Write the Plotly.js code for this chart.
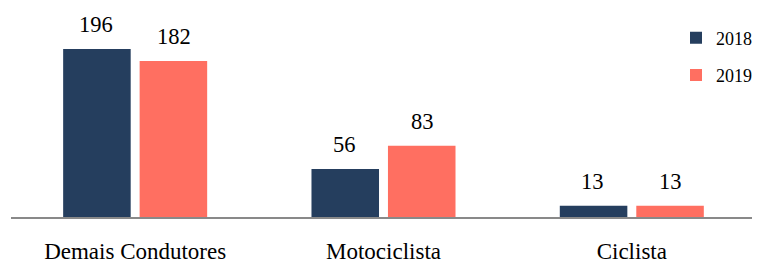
<!DOCTYPE html>
<html><head><meta charset="utf-8">
<script src="https://cdn.plot.ly/plotly-3.0.1.min.js"></script>
<style>html,body{margin:0;padding:0;background:#fff}#c{width:757px;height:266px}</style>
</head><body><div id="c"></div>
<script>
const categories = ["Demais Condutores", "Motociclista", "Ciclista"];
const v2018 = [196, 56, 13];
const v2019 = [182, 83, 13];
const seriesNames = ["2018", "2019"];
const colors = ["#253E5E", "#FF6F61"];
const font = "Times New Roman, Liberation Serif, DejaVu Serif, serif";

const traces = [
  {type:"bar", name:seriesNames[0], x:categories, y:v2018, marker:{color:colors[0]}, legend:"legend", hoverinfo:"none"},
  {type:"bar", name:seriesNames[1], x:categories, y:v2019, marker:{color:colors[1]}, legend:"legend2", hoverinfo:"none"}
];
const ann = [];
[v2018, v2019].forEach((vals, s) => {
  vals.forEach((v, i) => {
    ann.push({x:categories[i], y:v, xref:"x", yref:"y", text:String(v), showarrow:false,
      xshift: s===0 ? -39 : 39, yshift: 10, yanchor:"bottom",
      font:{family:font, size:22.5, color:"#000"}});
  });
});
const layout = {
  width:757, height:266,
  margin:{l:11, r:0, t:10, b:49},
  paper_bgcolor:"#fff", plot_bgcolor:"#fff",
  barmode:"group", bargap:0.384, bargroupgap:0.117,
  font:{family:font, color:"#000"},
  xaxis:{showline:true, linecolor:"#898989", linewidth:2, ticks:"", ticklabelstandoff:12,
         tickfont:{family:font, size:23, color:"#000"},
         range:[-0.5, 2.484], fixedrange:true, showgrid:false, zeroline:false},
  yaxis:{range:[0, 241.5], visible:false, showgrid:false, zeroline:false},
  legend:{x:0.898, y:0.865, xanchor:"left", yanchor:"middle", font:{family:font, size:18, color:"#000"}, bgcolor:"rgba(0,0,0,0)", itemwidth:30},
  legend2:{x:0.898, y:0.685, xanchor:"left", yanchor:"middle", font:{family:font, size:18, color:"#000"}, bgcolor:"rgba(0,0,0,0)", itemwidth:30},
  annotations: ann,
  showlegend:true
};
Plotly.newPlot("c", traces, layout, {displayModeBar:false, staticPlot:true});
</script></body></html>
